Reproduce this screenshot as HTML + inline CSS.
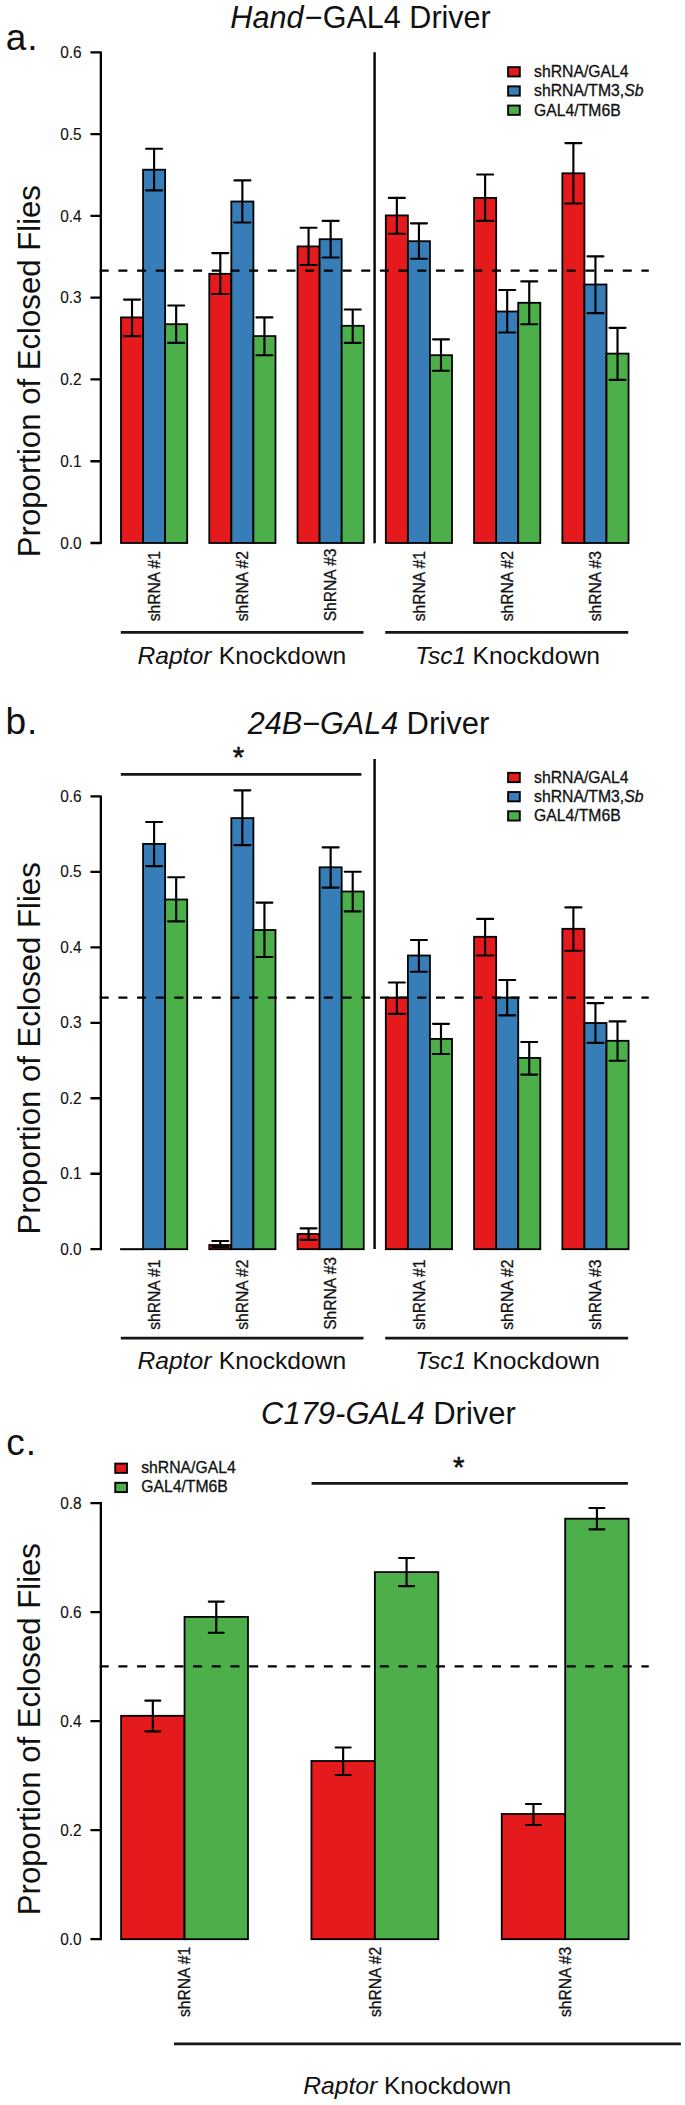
<!DOCTYPE html>
<html lang="en"><head><meta charset="utf-8"><title>Figure</title>
<style>html,body{margin:0;padding:0;background:#fff}svg{display:block}text{font-family:"Liberation Sans",Arial,Helvetica,sans-serif;fill:#111}.tk{font-size:15.4px;text-anchor:end}.xl{font-size:15.6px;text-anchor:start}.xl,.lg{stroke:#111;stroke-width:.3px}.tk{stroke:#111;stroke-width:.12px}.lg{font-size:15.75px}.ti{font-size:31px}.yl{font-size:31.15px}.pl{font-size:37px;letter-spacing:1px}.kd{font-size:24.65px}.st{font-size:29.5px;text-anchor:middle;stroke:#111;stroke-width:.55px}.i{font-style:italic}.ln{stroke:#000;fill:none}.hl{stroke:#161616;stroke-width:2.9px}</style></head><body>
<svg width="685" height="2105" viewBox="0 0 685 2105">
<rect width="685" height="2105" fill="#fff"/>
<g id="chart-a">
<text class="pl" x="5.8" y="49.7">a.</text>
<text class="ti i" x="230.3" y="27.5" style="font-size:30.6px">Hand</text><text class="ti" x="304.9" y="27.5" style="font-size:30.55px">−GAL4 Driver</text>
<rect x="121.00" y="317.40" width="22.07" height="225.60" fill="#e41a1c" stroke="#000" stroke-width="1.8"/>
<rect x="143.07" y="169.70" width="22.07" height="373.30" fill="#377eb8" stroke="#000" stroke-width="1.8"/>
<rect x="165.14" y="324.20" width="22.07" height="218.80" fill="#4daf4a" stroke="#000" stroke-width="1.8"/>
<rect x="209.27" y="273.80" width="22.07" height="269.20" fill="#e41a1c" stroke="#000" stroke-width="1.8"/>
<rect x="231.34" y="201.50" width="22.07" height="341.50" fill="#377eb8" stroke="#000" stroke-width="1.8"/>
<rect x="253.41" y="336.10" width="22.07" height="206.90" fill="#4daf4a" stroke="#000" stroke-width="1.8"/>
<rect x="297.54" y="246.40" width="22.07" height="296.60" fill="#e41a1c" stroke="#000" stroke-width="1.8"/>
<rect x="319.61" y="239.20" width="22.07" height="303.80" fill="#377eb8" stroke="#000" stroke-width="1.8"/>
<rect x="341.68" y="325.80" width="22.07" height="217.20" fill="#4daf4a" stroke="#000" stroke-width="1.8"/>
<rect x="385.81" y="215.40" width="22.07" height="327.60" fill="#e41a1c" stroke="#000" stroke-width="1.8"/>
<rect x="407.88" y="241.20" width="22.07" height="301.80" fill="#377eb8" stroke="#000" stroke-width="1.8"/>
<rect x="429.95" y="355.20" width="22.07" height="187.80" fill="#4daf4a" stroke="#000" stroke-width="1.8"/>
<rect x="474.08" y="197.90" width="22.07" height="345.10" fill="#e41a1c" stroke="#000" stroke-width="1.8"/>
<rect x="496.15" y="311.50" width="22.07" height="231.50" fill="#377eb8" stroke="#000" stroke-width="1.8"/>
<rect x="518.22" y="302.80" width="22.07" height="240.20" fill="#4daf4a" stroke="#000" stroke-width="1.8"/>
<rect x="562.35" y="173.30" width="22.07" height="369.70" fill="#e41a1c" stroke="#000" stroke-width="1.8"/>
<rect x="584.42" y="284.50" width="22.07" height="258.50" fill="#377eb8" stroke="#000" stroke-width="1.8"/>
<rect x="606.49" y="353.60" width="22.07" height="189.40" fill="#4daf4a" stroke="#000" stroke-width="1.8"/>
<path class="ln" stroke-width="2.15" stroke-linecap="round" d="M124.03 299.60H140.03M124.03 336.10H140.03M132.03 299.60V336.10"/>
<path class="ln" stroke-width="2.15" stroke-linecap="round" d="M146.10 148.70H162.10M146.10 190.40H162.10M154.10 148.70V190.40"/>
<path class="ln" stroke-width="2.15" stroke-linecap="round" d="M168.17 305.50H184.17M168.17 342.90H184.17M176.17 305.50V342.90"/>
<path class="ln" stroke-width="2.15" stroke-linecap="round" d="M212.30 253.10H228.30M212.30 294.00H228.30M220.30 253.10V294.00"/>
<path class="ln" stroke-width="2.15" stroke-linecap="round" d="M234.37 180.40H250.37M234.37 222.50H250.37M242.37 180.40V222.50"/>
<path class="ln" stroke-width="2.15" stroke-linecap="round" d="M256.44 317.40H272.44M256.44 355.20H272.44M264.44 317.40V355.20"/>
<path class="ln" stroke-width="2.15" stroke-linecap="round" d="M300.57 227.70H316.57M300.57 265.00H316.57M308.57 227.70V265.00"/>
<path class="ln" stroke-width="2.15" stroke-linecap="round" d="M322.64 220.90H338.64M322.64 257.50H338.64M330.64 220.90V257.50"/>
<path class="ln" stroke-width="2.15" stroke-linecap="round" d="M344.71 309.50H360.71M344.71 342.90H360.71M352.71 309.50V342.90"/>
<path class="ln" stroke-width="2.15" stroke-linecap="round" d="M388.85 197.90H404.85M388.85 233.70H404.85M396.85 197.90V233.70"/>
<path class="ln" stroke-width="2.15" stroke-linecap="round" d="M410.92 223.30H426.92M410.92 258.70H426.92M418.92 223.30V258.70"/>
<path class="ln" stroke-width="2.15" stroke-linecap="round" d="M432.99 339.30H448.99M432.99 370.70H448.99M440.99 339.30V370.70"/>
<path class="ln" stroke-width="2.15" stroke-linecap="round" d="M477.12 174.50H493.12M477.12 220.90H493.12M485.12 174.50V220.90"/>
<path class="ln" stroke-width="2.15" stroke-linecap="round" d="M499.19 290.00H515.18M499.19 332.50H515.18M507.19 290.00V332.50"/>
<path class="ln" stroke-width="2.15" stroke-linecap="round" d="M521.25 281.30H537.25M521.25 324.20H537.25M529.25 281.30V324.20"/>
<path class="ln" stroke-width="2.15" stroke-linecap="round" d="M565.38 143.10H581.38M565.38 203.50H581.38M573.38 143.10V203.50"/>
<path class="ln" stroke-width="2.15" stroke-linecap="round" d="M587.45 256.30H603.45M587.45 313.10H603.45M595.45 256.30V313.10"/>
<path class="ln" stroke-width="2.15" stroke-linecap="round" d="M609.52 327.80H625.52M609.52 379.80H625.52M617.52 327.80V379.80"/>
<path class="ln" stroke-width="2.4" d="M374.6 52.2V543.2"/>
<path class="ln" stroke-width="2.2" stroke-dasharray="9 9.68" d="M99.7 270.60H648.8"/>
<path class="ln" stroke-width="2.3" d="M100.85 51.38V544.00M90.45 543.00H100.85M90.45 461.23H100.85M90.45 379.46H100.85M90.45 297.69H100.85M90.45 215.92H100.85M90.45 134.15H100.85M90.45 52.38H100.85"/>
<text class="tk" transform="translate(81.6 548.60) scale(1 1.04)">0.0</text>
<text class="tk" transform="translate(81.6 466.83) scale(1 1.04)">0.1</text>
<text class="tk" transform="translate(81.6 385.06) scale(1 1.04)">0.2</text>
<text class="tk" transform="translate(81.6 303.29) scale(1 1.04)">0.3</text>
<text class="tk" transform="translate(81.6 221.52) scale(1 1.04)">0.4</text>
<text class="tk" transform="translate(81.6 139.75) scale(1 1.04)">0.5</text>
<text class="tk" transform="translate(81.6 57.98) scale(1 1.04)">0.6</text>
<text class="yl" transform="translate(40 557.20) rotate(-90)">Proportion of Eclosed Flies</text>
<rect x="508.1" y="67.15" width="11.7" height="9.3" fill="#e41a1c" stroke="#000" stroke-width="1.9"/>
<rect x="508.1" y="86.35" width="11.7" height="9.3" fill="#377eb8" stroke="#000" stroke-width="1.9"/>
<rect x="508.1" y="105.55" width="11.7" height="9.3" fill="#4daf4a" stroke="#000" stroke-width="1.9"/>
<text class="lg" x="534" y="76.85">shRNA/GAL4</text>
<text class="lg" x="534" y="96.40">shRNA/TM3,<tspan class="i">Sb</tspan></text>
<text class="lg" x="534" y="115.65">GAL4/TM6B</text>
<text class="xl" transform="translate(159.91 621.30) rotate(-90)">shRNA #1</text>
<text class="xl" transform="translate(248.18 621.30) rotate(-90)">shRNA #2</text>
<text class="xl" transform="translate(336.44 621.30) rotate(-90)">ShRNA #3</text>
<text class="xl" transform="translate(424.72 621.30) rotate(-90)">shRNA #1</text>
<text class="xl" transform="translate(512.99 621.30) rotate(-90)">shRNA #2</text>
<text class="xl" transform="translate(601.25 621.30) rotate(-90)">shRNA #3</text>
<path class="ln hl" d="M120.8 632.40H363.5M385.2 632.40H628.2"/>
<text class="kd i" x="137.4" y="663.60">Raptor</text><text class="kd" x="218.8" y="663.60">Knockdown</text>
<text class="kd i" x="415.2" y="663.60">Tsc1</text><text class="kd" x="472.6" y="663.60">Knockdown</text>
</g>
<g id="chart-b">
<text class="pl" x="5.4" y="734">b.</text>
<text class="ti i" x="247.7" y="734" style="font-size:30.6px">24B−GAL4</text><text class="ti" x="406.6" y="734">Driver</text>
<path class="ln" stroke-width="2.0" d="M120.10 1249.20H143.97"/>
<rect x="143.07" y="843.90" width="22.07" height="405.30" fill="#377eb8" stroke="#000" stroke-width="1.8"/>
<rect x="165.14" y="899.50" width="22.07" height="349.70" fill="#4daf4a" stroke="#000" stroke-width="1.8"/>
<rect x="209.27" y="1245.00" width="22.07" height="4.20" fill="#e41a1c" stroke="#000" stroke-width="1.8"/>
<rect x="231.34" y="818.10" width="22.07" height="431.10" fill="#377eb8" stroke="#000" stroke-width="1.8"/>
<rect x="253.41" y="930.00" width="22.07" height="319.20" fill="#4daf4a" stroke="#000" stroke-width="1.8"/>
<rect x="297.54" y="1234.00" width="22.07" height="15.20" fill="#e41a1c" stroke="#000" stroke-width="1.8"/>
<rect x="319.61" y="867.30" width="22.07" height="381.90" fill="#377eb8" stroke="#000" stroke-width="1.8"/>
<rect x="341.68" y="891.50" width="22.07" height="357.70" fill="#4daf4a" stroke="#000" stroke-width="1.8"/>
<rect x="385.81" y="997.60" width="22.07" height="251.60" fill="#e41a1c" stroke="#000" stroke-width="1.8"/>
<rect x="407.88" y="955.50" width="22.07" height="293.70" fill="#377eb8" stroke="#000" stroke-width="1.8"/>
<rect x="429.95" y="1038.90" width="22.07" height="210.30" fill="#4daf4a" stroke="#000" stroke-width="1.8"/>
<rect x="474.08" y="936.80" width="22.07" height="312.40" fill="#e41a1c" stroke="#000" stroke-width="1.8"/>
<rect x="496.15" y="997.60" width="22.07" height="251.60" fill="#377eb8" stroke="#000" stroke-width="1.8"/>
<rect x="518.22" y="1057.90" width="22.07" height="191.30" fill="#4daf4a" stroke="#000" stroke-width="1.8"/>
<rect x="562.35" y="928.80" width="22.07" height="320.40" fill="#e41a1c" stroke="#000" stroke-width="1.8"/>
<rect x="584.42" y="1023.00" width="22.07" height="226.20" fill="#377eb8" stroke="#000" stroke-width="1.8"/>
<rect x="606.49" y="1040.80" width="22.07" height="208.40" fill="#4daf4a" stroke="#000" stroke-width="1.8"/>
<path class="ln" stroke-width="2.15" stroke-linecap="round" d="M146.10 822.00H162.10M146.10 866.10H162.10M154.10 822.00V866.10"/>
<path class="ln" stroke-width="2.15" stroke-linecap="round" d="M168.17 877.20H184.17M168.17 921.30H184.17M176.17 877.20V921.30"/>
<path class="ln" stroke-width="2.15" stroke-linecap="round" d="M212.30 1241.00H228.30M212.30 1247.00H228.30M220.30 1241.00V1247.00"/>
<path class="ln" stroke-width="2.15" stroke-linecap="round" d="M234.37 790.30H250.37M234.37 845.10H250.37M242.37 790.30V845.10"/>
<path class="ln" stroke-width="2.15" stroke-linecap="round" d="M256.44 902.60H272.44M256.44 957.00H272.44M264.44 902.60V957.00"/>
<path class="ln" stroke-width="2.15" stroke-linecap="round" d="M300.57 1228.30H316.57M300.57 1239.80H316.57M308.57 1228.30V1239.80"/>
<path class="ln" stroke-width="2.15" stroke-linecap="round" d="M322.64 847.40H338.64M322.64 887.60H338.64M330.64 847.40V887.60"/>
<path class="ln" stroke-width="2.15" stroke-linecap="round" d="M344.71 871.70H360.71M344.71 911.40H360.71M352.71 871.70V911.40"/>
<path class="ln" stroke-width="2.15" stroke-linecap="round" d="M388.85 982.50H404.85M388.85 1013.80H404.85M396.85 982.50V1013.80"/>
<path class="ln" stroke-width="2.15" stroke-linecap="round" d="M410.92 940.00H426.92M410.92 971.70H426.92M418.92 940.00V971.70"/>
<path class="ln" stroke-width="2.15" stroke-linecap="round" d="M432.99 1023.80H448.99M432.99 1054.00H448.99M440.99 1023.80V1054.00"/>
<path class="ln" stroke-width="2.15" stroke-linecap="round" d="M477.12 918.90H493.12M477.12 955.50H493.12M485.12 918.90V955.50"/>
<path class="ln" stroke-width="2.15" stroke-linecap="round" d="M499.19 980.00H515.18M499.19 1015.40H515.18M507.19 980.00V1015.40"/>
<path class="ln" stroke-width="2.15" stroke-linecap="round" d="M521.25 1042.00H537.25M521.25 1074.60H537.25M529.25 1042.00V1074.60"/>
<path class="ln" stroke-width="2.15" stroke-linecap="round" d="M565.38 907.40H581.38M565.38 950.70H581.38M573.38 907.40V950.70"/>
<path class="ln" stroke-width="2.15" stroke-linecap="round" d="M587.45 1003.10H603.45M587.45 1042.80H603.45M595.45 1003.10V1042.80"/>
<path class="ln" stroke-width="2.15" stroke-linecap="round" d="M609.52 1021.40H625.52M609.52 1060.70H625.52M617.52 1021.40V1060.70"/>
<path class="ln" stroke-width="2.4" d="M374.6 759V1248.9"/>
<path class="ln" stroke-width="2.2" stroke-dasharray="9 9.68" d="M99.7 997.60H648.8"/>
<path class="ln" stroke-width="2.3" d="M100.85 795.38V1250.20M90.45 1249.20H100.85M90.45 1173.73H100.85M90.45 1098.26H100.85M90.45 1022.79H100.85M90.45 947.32H100.85M90.45 871.85H100.85M90.45 796.38H100.85"/>
<text class="tk" transform="translate(81.6 1254.80) scale(1 1.04)">0.0</text>
<text class="tk" transform="translate(81.6 1179.33) scale(1 1.04)">0.1</text>
<text class="tk" transform="translate(81.6 1103.86) scale(1 1.04)">0.2</text>
<text class="tk" transform="translate(81.6 1028.39) scale(1 1.04)">0.3</text>
<text class="tk" transform="translate(81.6 952.92) scale(1 1.04)">0.4</text>
<text class="tk" transform="translate(81.6 877.45) scale(1 1.04)">0.5</text>
<text class="tk" transform="translate(81.6 801.98) scale(1 1.04)">0.6</text>
<text class="yl" transform="translate(40 1234.40) rotate(-90)">Proportion of Eclosed Flies</text>
<rect x="508.1" y="772.85" width="11.7" height="9.3" fill="#e41a1c" stroke="#000" stroke-width="1.9"/>
<rect x="508.1" y="792.05" width="11.7" height="9.3" fill="#377eb8" stroke="#000" stroke-width="1.9"/>
<rect x="508.1" y="811.25" width="11.7" height="9.3" fill="#4daf4a" stroke="#000" stroke-width="1.9"/>
<text class="lg" x="534" y="782.55">shRNA/GAL4</text>
<text class="lg" x="534" y="802.10">shRNA/TM3,<tspan class="i">Sb</tspan></text>
<text class="lg" x="534" y="821.35">GAL4/TM6B</text>
<text class="xl" transform="translate(159.91 1329.80) rotate(-90)">shRNA #1</text>
<text class="xl" transform="translate(248.18 1329.80) rotate(-90)">shRNA #2</text>
<text class="xl" transform="translate(336.44 1329.80) rotate(-90)">ShRNA #3</text>
<text class="xl" transform="translate(424.72 1329.80) rotate(-90)">shRNA #1</text>
<text class="xl" transform="translate(512.99 1329.80) rotate(-90)">shRNA #2</text>
<text class="xl" transform="translate(601.25 1329.80) rotate(-90)">shRNA #3</text>
<path class="ln hl" d="M120.8 1338.10H363.5M385.2 1338.10H628.2"/>
<text class="kd i" x="137.4" y="1369.30">Raptor</text><text class="kd" x="218.8" y="1369.30">Knockdown</text>
<text class="kd i" x="415.2" y="1369.30">Tsc1</text><text class="kd" x="472.6" y="1369.30">Knockdown</text>
<path class="ln hl" d="M120.8 774.4H361.4"/>
<text class="st" x="238.6" y="767.2">*</text>
</g>
<g id="chart-c">
<text class="pl" x="6.2" y="1454.7">c.</text>
<text class="ti i" x="261" y="1424">C179-GAL4</text><text class="ti" x="433.2" y="1424">Driver</text>
<rect x="121.10" y="1715.80" width="63.44" height="223.40" fill="#e41a1c" stroke="#000" stroke-width="1.8"/>
<rect x="184.54" y="1616.90" width="63.44" height="322.30" fill="#4daf4a" stroke="#000" stroke-width="1.8"/>
<rect x="311.42" y="1761.00" width="63.44" height="178.20" fill="#e41a1c" stroke="#000" stroke-width="1.8"/>
<rect x="374.86" y="1572.10" width="63.44" height="367.10" fill="#4daf4a" stroke="#000" stroke-width="1.8"/>
<rect x="501.74" y="1814.00" width="63.44" height="125.20" fill="#e41a1c" stroke="#000" stroke-width="1.8"/>
<rect x="565.18" y="1518.70" width="63.44" height="420.50" fill="#4daf4a" stroke="#000" stroke-width="1.8"/>
<path class="ln" stroke-width="2.15" stroke-linecap="round" d="M145.32 1700.60H160.32M145.32 1731.30H160.32M152.82 1700.60V1731.30"/>
<path class="ln" stroke-width="2.15" stroke-linecap="round" d="M208.76 1601.60H223.76M208.76 1632.70H223.76M216.26 1601.60V1632.70"/>
<path class="ln" stroke-width="2.15" stroke-linecap="round" d="M335.64 1747.50H350.64M335.64 1775.00H350.64M343.14 1747.50V1775.00"/>
<path class="ln" stroke-width="2.15" stroke-linecap="round" d="M399.08 1558.00H414.08M399.08 1586.10H414.08M406.58 1558.00V1586.10"/>
<path class="ln" stroke-width="2.15" stroke-linecap="round" d="M525.96 1804.00H540.96M525.96 1825.00H540.96M533.46 1804.00V1825.00"/>
<path class="ln" stroke-width="2.15" stroke-linecap="round" d="M589.40 1508.00H604.40M589.40 1529.40H604.40M596.90 1508.00V1529.40"/>
<path class="ln" stroke-width="2.2" stroke-dasharray="9 9.68" d="M99.7 1666.40H648.8"/>
<path class="ln" stroke-width="2.3" d="M100.85 1502.12V1940.20M90.45 1939.20H100.85M90.45 1830.18H100.85M90.45 1721.16H100.85M90.45 1612.14H100.85M90.45 1503.12H100.85"/>
<text class="tk" transform="translate(81.6 1944.80) scale(1 1.04)">0.0</text>
<text class="tk" transform="translate(81.6 1835.78) scale(1 1.04)">0.2</text>
<text class="tk" transform="translate(81.6 1726.76) scale(1 1.04)">0.4</text>
<text class="tk" transform="translate(81.6 1617.74) scale(1 1.04)">0.6</text>
<text class="tk" transform="translate(81.6 1508.72) scale(1 1.04)">0.8</text>
<text class="yl" transform="translate(40 1915.20) rotate(-90)">Proportion of Eclosed Flies</text>
<rect x="115.25" y="1463.60" width="11.7" height="9.3" fill="#e41a1c" stroke="#000" stroke-width="1.9"/>
<rect x="115.25" y="1482.80" width="11.7" height="9.3" fill="#4daf4a" stroke="#000" stroke-width="1.9"/>
<text class="lg" x="141.2" y="1473.2">shRNA/GAL4</text>
<text class="lg" x="141.2" y="1492.4">GAL4/TM6B</text>
<text class="xl" transform="translate(190.34 2017.00) rotate(-90)">shRNA #1</text>
<text class="xl" transform="translate(380.66 2017.00) rotate(-90)">shRNA #2</text>
<text class="xl" transform="translate(570.98 2017.00) rotate(-90)">shRNA #3</text>
<path class="ln hl" d="M174.0 2043.9H680.9"/>
<text class="kd i" x="303.2" y="2094.2">Raptor</text><text class="kd" x="383.9" y="2094.2">Knockdown</text>
<path class="ln hl" d="M311.6 1483.4H627.9"/>
<text class="st" x="458.7" y="1476.7">*</text>
</g>
</svg></body></html>
